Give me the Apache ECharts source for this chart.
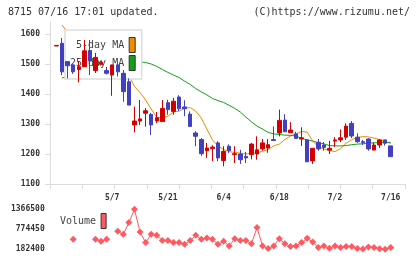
<!DOCTYPE html>
<html><head><meta charset="utf-8">
<script src="https://cdn.jsdelivr.net/npm/echarts@6/dist/echarts.min.js"></script>
<style>html,body{margin:0;padding:0;background:#fff}#c{width:420px;height:259px}</style>
</head><body><div id="c"></div>
<script>
const dates = ['4/18','4/19','4/22','4/23','4/24','4/25','4/26','4/30','5/1','5/2',
  '5/7','5/8','5/9','5/10','5/13','5/14','5/15','5/16','5/17','5/20',
  '5/21','5/22','5/23','5/24','5/27','5/28','5/29','5/30','5/31','6/3',
  '6/4','6/5','6/6','6/7','6/10','6/11','6/12','6/13','6/14','6/17',
  '6/18','6/19','6/20','6/21','6/24','6/25','6/26','6/27','6/28','7/1',
  '7/2','7/3','7/4','7/5','7/8','7/9','7/10','7/11','7/12','7/15','7/16'];
// [open, close, low, high]
const candles = [
  [1560,1562,1560,1562],[1569,1474,1463,1587],[1508,1494,1452,1508],[1497,1474,1467,1502],[1482,1491,1439,1508],
  [1491,1544,1490,1580],[1545,1510,1463,1580],[1478,1522,1470,1537],[1499,1506,1495,1510],[1478,1469,1465,1490],
  [1463,1497,1394,1497],[1497,1474,1458,1500],[1469,1408,1374,1480],[1441,1363,1363,1452],[1297,1310,1272,1358],
  [1310,1317,1297,1380],[1336,1344,1291,1353],[1332,1297,1263,1337],[1310,1321,1303,1340],[1308,1352,1308,1380],
  [1371,1348,1331,1381],[1342,1376,1331,1387],[1390,1351,1343,1396],[1357,1351,1326,1379],[1333,1292,1292,1342],
  [1270,1259,1226,1276],[1248,1201,1194,1253],[1211,1220,1187,1237],[1218,1223,1176,1229],[1237,1187,1176,1243],
  [1178,1209,1159,1226],[1226,1211,1203,1232],[1198,1201,1170,1226],[1200,1181,1167,1214],[1192,1187,1170,1207],
  [1198,1233,1182,1237],[1200,1214,1181,1259],[1217,1237,1211,1250],[1220,1231,1204,1250],[1248,1245,1245,1292],
  [1270,1312,1259,1348],[1313,1274,1274,1333],[1271,1280,1271,1306],[1267,1252,1252,1274],[1250,1254,1227,1289],
  [1247,1174,1174,1250],[1177,1219,1167,1219],[1239,1217,1211,1250],[1230,1222,1211,1240],[1213,1219,1200,1244],
  [1243,1247,1224,1256],[1247,1254,1240,1282],[1256,1293,1247,1302],[1302,1260,1253,1310],[1256,1241,1237,1269],
  [1241,1238,1230,1247],[1250,1217,1211,1253],[1213,1230,1213,1239],[1230,1247,1220,1250],[1247,1236,1228,1247],
  [1227,1191,1191,1227]];
const ma5 = [null,1630,1605,1565,1530,1510,1505,1505,1510,1505,
  1492,1488,1478,1460,1425,1405,1380,1350,1322,1320,
  1326,1340,1343,1352,1355,1343,1320,1283,1247,1227,
  1215,1208,1205,1203,1200,1202,1204,1209,1215,1227,
  1233,1248,1260,1267,1275,1273,1243,1224,1217,1212,
  1208,1218,1236,1248,1255,1258,1257,1253,1248,1241,1235];
const ma25 = [null,1453,1460,1466,1472,1478,1483,1488,1492,1496,
  1499,1502,1504,1506,1507,1507,1505,1500,1492,1482,
  1472,1463,1455,1443,1432,1418,1407,1397,1385,1378,
  1372,1362,1352,1340,1323,1307,1293,1283,1272,1267,
  1265,1263,1262,1260,1252,1247,1243,1238,1234,1228,
  1227,1227,1228,1231,1233,1234,1236,1237,1238,1238,1239];
const volume = [null,null,null,478000,null,null,null,478000,419000,478000,
  null,715000,626000,973000,1366500,694000,380000,626000,597000,440000,
  440000,380000,380000,330000,440000,597000,478000,517000,478000,330000,
  419000,280000,498000,440000,440000,350000,825000,280000,203000,280000,
  498000,350000,262000,280000,380000,508000,399000,232000,280000,212000,
  280000,232000,262000,262000,203000,190000,251000,232000,195000,182400,232000];
const priceTicks = [1100,1200,1300,1400,1500,1600];
const dateLabels = ['5/7','5/21','6/4','6/18','7/2','7/16'];
const volumeTicks = [182400,774450,1366500];

const MONO = 'DejaVu Sans Mono';
const axisFont = {fontFamily: MONO, fontSize: 8, fontWeight: 'bold', color: '#333'};
const gray = '#dcdcdc';
const plain = v => String(v);
const chart = echarts.init(document.getElementById('c'), null, {renderer: 'canvas'});
chart.setOption({
  animation: false,
  backgroundColor: '#fff',
  title: [
    {text: '8715 07/16 17:01 updated.', left: 8, top: 7, padding: 0,
     textStyle: {fontFamily: MONO, fontSize: 10, fontWeight: 'normal', color: '#333'}},
    {text: '(C)https://www.rizumu.net/', right: 10, top: 7, padding: 0,
     textStyle: {fontFamily: MONO, fontSize: 10, fontWeight: 'normal', color: '#333'}}
  ],
  legend: [
    {data: [
       {name: '5-day MA', icon: 'rect', itemStyle: {borderColor: '#333', borderWidth: 1}},
       {name: '25-day MA', icon: 'rect', itemStyle: {borderColor: '#333', borderWidth: 1}}],
     left: 65, top: 30, orient: 'vertical', align: 'right', itemWidth: 6, itemHeight: 15, itemGap: 2,
     padding: [7, 6, 8, 5], borderColor: '#ddd', borderWidth: 1.5, backgroundColor: '#fff',
     selectedMode: false, z: 3,
     formatter: n => n.length < 9 ? ' ' + n : n,
     textStyle: {fontFamily: MONO, fontSize: 10, color: '#444'}},
    {data: [{name: 'Volume', icon: 'rect', itemStyle: {borderColor: '#333', borderWidth: 1}}],
     left: 60, top: 213, align: 'right', itemWidth: 5, itemHeight: 15, padding: 0,
     selectedMode: false,
     textStyle: {fontFamily: MONO, fontSize: 10, color: '#444'}}
  ],
  grid: [
    {left: 50, right: 15, top: 22, height: 162},
    {left: 53.7, right: 26.5, top: 22, height: 162},
    {left: 53.7, right: 26.5, top: 209.3, height: 40}
  ],
  xAxis: [
    {type: 'value', gridIndex: 0, min: 0, max: 11, interval: 1,
     axisLine: {lineStyle: {color: gray}}, axisTick: {length: 5, lineStyle: {color: gray}},
     axisLabel: {show: false}, splitLine: {show: false}},
    {type: 'category', gridIndex: 1, data: dates, boundaryGap: true,
     axisLine: {show: false}, axisTick: {show: false}, splitLine: {show: false},
     axisLabel: Object.assign({interval: (i, v) => dateLabels.includes(v), margin: 10}, axisFont)},
    {type: 'category', gridIndex: 2, data: dates, boundaryGap: true, show: false}
  ],
  yAxis: [
    {type: 'value', gridIndex: 0, min: 1100, max: 1640, interval: 100,
     axisLine: {show: true, lineStyle: {color: gray}},
     axisTick: {show: true, length: 5, lineStyle: {color: gray}, customValues: priceTicks},
     axisLabel: Object.assign({margin: 10, customValues: priceTicks, formatter: plain}, axisFont),
     splitLine: {show: false}},
    {type: 'value', gridIndex: 1, min: 1100, max: 1640, show: false, splitLine: {show: false}},
    {type: 'value', gridIndex: 2, min: 182400, max: 1366500, interval: 592050,
     axisLine: {show: false}, axisTick: {show: false}, splitLine: {show: false},
     axisLabel: Object.assign({margin: 9, customValues: volumeTicks, formatter: plain}, axisFont)}
  ],
  series: [
    {name: '5-day MA', type: 'line', xAxisIndex: 1, yAxisIndex: 1, data: ma5, symbol: 'none',
     color: '#f08c00', lineStyle: {width: 1, color: '#f08c00'}, z: 1},
    {name: '25-day MA', type: 'line', xAxisIndex: 1, yAxisIndex: 1, data: ma25, symbol: 'none',
     color: '#14a014', lineStyle: {width: 1, color: '#14a014'}, z: 1},
    {name: 'price', type: 'candlestick', xAxisIndex: 1, yAxisIndex: 1, data: candles, barWidth: 4, z: 5,
     itemStyle: {color: '#d40000', color0: '#4040c0', borderColor: '#d40000', borderColor0: '#4040c0', borderWidth: 1}},
    {name: 'Volume', type: 'line', xAxisIndex: 2, yAxisIndex: 2, data: volume, symbol: 'diamond', symbolSize: 7,
     showSymbol: true, showAllSymbol: true,
     color: '#ff5a60', lineStyle: {width: 1, color: '#ff5a60'}, itemStyle: {color: '#ff5a60'}, connectNulls: false}
  ]
});
</script></body></html>
